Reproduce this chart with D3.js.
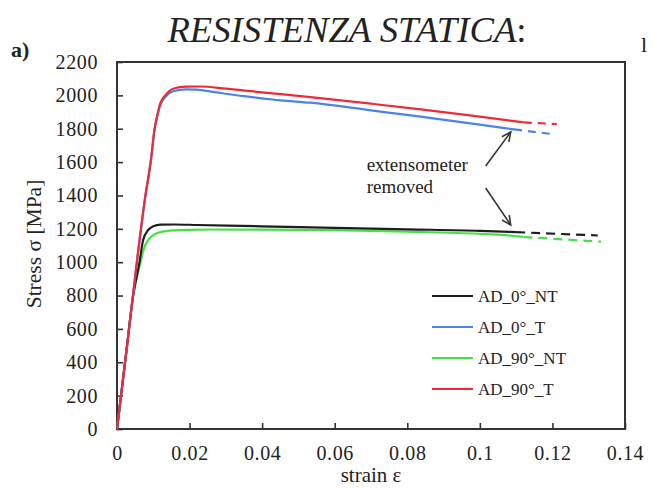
<!DOCTYPE html>
<html><head><meta charset="utf-8">
<script src="https://cdn.jsdelivr.net/npm/d3@7"></script>
<style>
html,body{margin:0;padding:0;background:#fff;}
svg{display:block;}
text{font-family:"Liberation Serif","Times New Roman",serif;fill:#222;}
</style></head>
<body>
<svg id="chart" width="653" height="488"></svg>
<script>
// ---- data ----
const seriesNames = ["AD_0°_NT", "AD_0°_T", "AD_90°_NT", "AD_90°_T"];
const seriesColors = ["#1e1e1e", "#4a82ee", "#47e04a", "#ee2a36"];

const strain0NT = [0, 0.0025, 0.0044, 0.0062, 0.0072, 0.0086, 0.010, 0.012, 0.016, 0.022, 0.04, 0.06, 0.08, 0.10, 0.110];
const stress0NT = [0, 450, 792, 1000, 1133, 1193, 1215, 1225, 1226, 1223, 1215, 1206, 1197, 1188, 1180];
const strain0NTdash = [0.110, 0.1325];
const stress0NTdash = [1180, 1160];

const strain0T = [0, 0.0030, 0.0058, 0.0077, 0.0094, 0.0103, 0.0112, 0.0119, 0.0133, 0.0155, 0.019, 0.022, 0.026, 0.035, 0.045, 0.0533, 0.07, 0.0837, 0.10, 0.1094];
const stress0T = [0, 540, 1060, 1380, 1620, 1790, 1885, 1940, 1990, 2025, 2036, 2034, 2022, 1995, 1970, 1956, 1910, 1872, 1825, 1796];
const strain0Tdash = [0.1094, 0.120];
const stress0Tdash = [1796, 1768];

const strain90NT = [0, 0.0025, 0.0044, 0.0065, 0.0073, 0.0086, 0.011, 0.0146, 0.02, 0.026, 0.04, 0.06, 0.08, 0.10, 0.107, 0.112];
const stress90NT = [0, 450, 792, 1000, 1073, 1133, 1174, 1189, 1194, 1196, 1195, 1192, 1183, 1170, 1162, 1151];
const strain90NTdash = [0.112, 0.1334];
const stress90NTdash = [1151, 1123];

const strain90T = [0, 0.0030, 0.0058, 0.0077, 0.0094, 0.0103, 0.0112, 0.0119, 0.0133, 0.0155, 0.019, 0.023, 0.030, 0.040, 0.0533, 0.07, 0.0837, 0.10, 0.1121];
const stress90T = [0, 540, 1060, 1380, 1620, 1790, 1890, 1950, 2000, 2040, 2052, 2053, 2040, 2018, 1990, 1950, 1916, 1872, 1838];
const strain90Tdash = [0.1121, 0.1212];
const stress90Tdash = [1838, 1828];

const xTicks = [0, 0.02, 0.04, 0.06, 0.08, 0.1, 0.12, 0.14];
const yTicks = [0, 200, 400, 600, 800, 1000, 1200, 1400, 1600, 1800, 2000, 2200];

// annotation arrows [strain, stress] tail -> head
const arrowTails = [[0.1016, 1577], [0.1016, 1445]];
const arrowHeads = [[0.1085, 1780], [0.1085, 1223]];
const noteAnchor = [0.0688, 1547];

// ---- drawing ----
const svg = d3.select("#chart");
const L = 117, R = 625, T = 62, B = 429;
const x = d3.scaleLinear().domain([0, 0.14]).range([L, R]);
const y = d3.scaleLinear().domain([0, 2200]).range([B, T]);

const zip = (a, b) => a.map((v, i) => [v, b[i]]);
const line = d3.line().x(d => x(d[0])).y(d => y(d[1])).curve(d3.curveMonotoneX);
const straight = d3.line().x(d => x(d[0])).y(d => y(d[1]));

// title
svg.append("text").attr("x", 347).attr("y", 42).attr("text-anchor", "middle")
  .style("font-size", "36.7px")
  .html('<tspan font-style="italic">RESISTENZA STATICA</tspan><tspan>:</tspan>');
svg.append("text").attr("x", 11).attr("y", 57).style("font-size", "22px").style("font-weight", "bold").text("a)");
svg.append("text").attr("x", 641).attr("y", 52).style("font-size", "22px").text("l");

// axes
const xAxis = d3.axisBottom(x).tickValues(xTicks).tickSizeInner(-6).tickSizeOuter(0)
  .tickPadding(17).tickFormat(d => String(+d.toFixed(2)));
const gx = svg.append("g").attr("transform", `translate(0,${B})`).call(xAxis);
const yAxis = d3.axisLeft(y).tickValues(yTicks).tickSizeInner(-6).tickSizeOuter(0)
  .tickPadding(19).tickFormat(d3.format("d"));
const gy = svg.append("g").attr("transform", `translate(${L},0)`).call(yAxis);
[gx, gy].forEach(g => {
  g.select(".domain").remove();
  g.selectAll(".tick line").attr("stroke", "#333").attr("stroke-width", 1.6);
  g.selectAll(".tick text").style("font-family", '"Liberation Serif",serif').style("font-size", "20px")
    .style("letter-spacing", "0.6px").attr("fill", "#222");
});

// frame
svg.append("rect").attr("x", L).attr("y", T).attr("width", R - L).attr("height", B - T)
  .attr("fill", "none").attr("stroke", "#333").attr("stroke-width", 2);

// axis titles
svg.append("text").attr("x", 371).attr("y", 482).attr("text-anchor", "middle")
  .style("font-size", "21px").text("strain ε");
svg.append("text").attr("transform", `translate(41,244) rotate(-90)`).attr("text-anchor", "middle")
  .style("font-size", "21.5px").text("Stress σ [MPa]");

// curves
const solids = [[strain90NT, stress90NT, 2], [strain0NT, stress0NT, 0], [strain0T, stress0T, 1], [strain90T, stress90T, 3]];
const dashes = [[strain90NTdash, stress90NTdash, 2], [strain0NTdash, stress0NTdash, 0], [strain0Tdash, stress0Tdash, 1], [strain90Tdash, stress90Tdash, 3]];
solids.forEach(([sx, sy, c]) => {
  svg.append("path").attr("d", line(zip(sx, sy))).attr("fill", "none")
    .attr("stroke", seriesColors[c]).attr("stroke-width", 2.2);
});
dashes.forEach(([sx, sy, c]) => {
  svg.append("path").attr("d", straight(zip(sx, sy))).attr("fill", "none")
    .attr("stroke", seriesColors[c]).attr("stroke-width", 2.2)
    .attr("stroke-dasharray", c === 0 || c === 2 ? "9,6" : "8,6");
});

// annotation
svg.append("text").attr("x", x(noteAnchor[0])).attr("y", y(noteAnchor[1]))
  .style("font-size", "19px").attr("fill", "#333").text("extensometer");
svg.append("text").attr("x", x(noteAnchor[0])).attr("y", y(noteAnchor[1]) + 22)
  .style("font-size", "19px").attr("fill", "#333").text("removed");
arrowTails.forEach((t, i) => {
  const h = arrowHeads[i];
  const x1 = x(t[0]), y1 = y(t[1]), x2 = x(h[0]), y2 = y(h[1]);
  svg.append("line").attr("x1", x1).attr("y1", y1).attr("x2", x2).attr("y2", y2)
    .attr("stroke", "#333").attr("stroke-width", 1.6);
  const ang = Math.atan2(y2 - y1, x2 - x1);
  const len = 10, spread = 0.45;
  const p1 = [x2 - len * Math.cos(ang - spread), y2 - len * Math.sin(ang - spread)];
  const p2 = [x2 - len * Math.cos(ang + spread), y2 - len * Math.sin(ang + spread)];
  svg.append("path").attr("d", `M${p1}L${x2},${y2}L${p2}`).attr("fill", "none")
    .attr("stroke", "#333").attr("stroke-width", 1.6);
});

// legend
const lg = svg.append("g");
seriesNames.forEach((n, i) => {
  const yy = 296 + i * 31;
  lg.append("line").attr("x1", 432).attr("x2", 473).attr("y1", yy).attr("y2", yy)
    .attr("stroke", seriesColors[i]).attr("stroke-width", 2.2);
  lg.append("text").attr("x", 478).attr("y", yy + 6).style("font-size", "17px").text(n);
});
</script>
</body></html>
